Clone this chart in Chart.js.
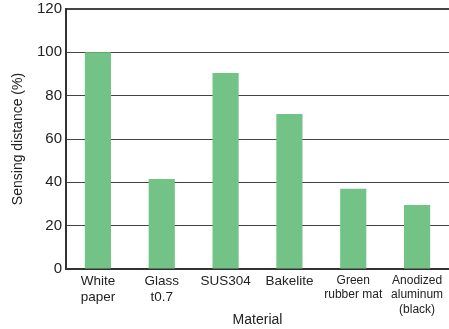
<!DOCTYPE html>
<html>
<head>
<meta charset="utf-8">
<script src="https://cdn.jsdelivr.net/npm/chart.js@4"></script>
<style>
  html, body { margin: 0; padding: 0; background: #fff; }
  #wrap { width: 449px; height: 329px; }
</style>
</head>
<body>
<div id="wrap"><canvas id="chart"></canvas></div>
<script>
const categories = [
  ["White", "paper"],
  ["Glass", "t0.7"],
  ["SUS304"],
  ["Bakelite"],
  ["Green", "rubber mat"],
  ["Anodized", "aluminum", "(black)"]
];
const sensingDistance = [100, 41.5, 90.5, 71.5, 37, 29.5];
const yTicks = [0, 20, 40, 60, 80, 100, 120];

const fontFamily = "'Liberation Sans', Arial, sans-serif";

const data = {
  labels: categories,
  datasets: [
    {
      label: "Sensing distance",
      backgroundColor: "#72c385",
      borderWidth: 0,
      data: sensingDistance,
      barPercentage: 0.41,
      categoryPercentage: 1
    }
  ]
};

const config = {
  type: "bar",
  data: data,
  options: {
    responsive: true,
    maintainAspectRatio: false,
    animation: false,
    layout: { padding: { left: 0, right: 0, top: 9, bottom: 0 } },
    plugins: { legend: { display: false }, tooltip: { enabled: false } },
    scales: {
      x: {
        grid: { display: false, drawTicks: false },
        border: { display: true, color: "#333", width: 2 },
        ticks: {
          color: "#222",
          padding: 4,
          maxRotation: 0,
          autoSkip: false,
          font: (ctx) => ({
            family: fontFamily,
            size: ctx.index >= 4 ? 12 : 13.5,
            lineHeight: 1.22
          })
        },
        title: {
          display: true,
          text: "Material",
          color: "#222",
          font: { family: fontFamily, size: 14 },
          padding: { top: 0, bottom: 0 }
        },
        afterFit: (scale) => { scale.height = 60; }
      },
      y: {
        min: 0,
        max: 120,
        afterBuildTicks: (scale) => { scale.ticks = yTicks.map(v => ({ value: v })); },
        grid: {
          drawTicks: false,
          color: "#444",
          lineWidth: (ctx) => (ctx.tick && ctx.tick.value === 120 ? 2 : 1)
        },
        border: { display: true, color: "#333", width: 2 },
        ticks: {
          color: "#222",
          padding: 4,
          font: { family: fontFamily, size: 15 }
        },
        title: {
          display: true,
          text: "Sensing distance (%)",
          color: "#222",
          font: { family: fontFamily, size: 14 },
          padding: { top: 10, bottom: 0 }
        },
        afterFit: (scale) => {
          scale.width = 66;
          scale.paddingTop = 0;
          scale.paddingBottom = 0;
        }
      }
    }
  }
};

const myChart = new Chart(document.getElementById("chart"), config);
</script>
</body>
</html>
